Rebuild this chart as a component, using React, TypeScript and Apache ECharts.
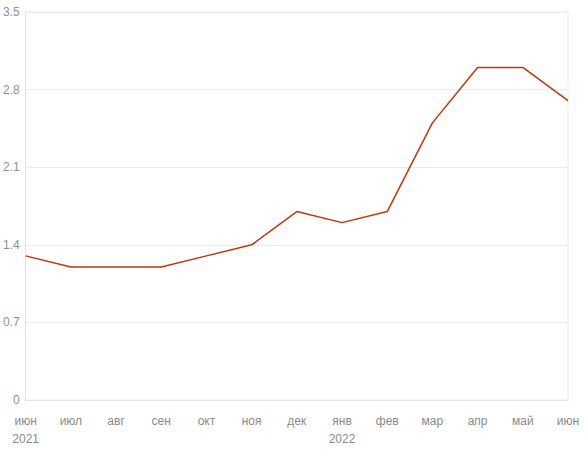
import React, { useEffect, useRef } from "react";
import * as echarts from "echarts";

const months = ["июн", "июл", "авг", "сен", "окт", "ноя", "дек", "янв", "фев", "мар", "апр", "май", "июн"];
const yearLabels = ["2021", "", "", "", "", "", "", "2022", "", "", "", "", ""];
const values = [1.3, 1.2, 1.2, 1.2, 1.3, 1.4, 1.7, 1.6, 1.7, 2.5, 3.0, 3.0, 2.7];
const yTicks = { min: 0, max: 3.5, interval: 0.7 };

export default function App() {
  const ref = useRef<HTMLDivElement>(null);
  useEffect(() => {
    const chart = echarts.init(ref.current!, null, { renderer: "svg" });
    const cats = months.map((m, i) => (yearLabels[i] ? m + "\n" + yearLabels[i] : m));
    chart.setOption({
      animation: false,
      textStyle: { fontFamily: "Liberation Sans, Arial, sans-serif" },
      grid: {
        left: 25,
        right: 17,
        top: 12,
        bottom: 53,
        show: true,
        borderColor: "#ebebeb",
        borderWidth: 1,
        containLabel: false,
      },
      xAxis: {
        type: "category",
        data: cats,
        boundaryGap: false,
        axisLine: { lineStyle: { color: "#e3e3e3" } },
        axisTick: { show: false },
        axisLabel: {
          color: "#8a8a8a",
          fontSize: 12,
          margin: 12,
          lineHeight: 18,
          interval: 0,
        },
        splitLine: { show: false },
      },
      yAxis: {
        type: "value",
        min: yTicks.min,
        max: yTicks.max,
        interval: yTicks.interval,
        axisLine: { show: true, lineStyle: { color: "#e3e3e3" } },
        axisTick: { show: false },
        axisLabel: { color: "#8292ab", fontSize: 12, margin: 6 },
        splitLine: { lineStyle: { color: "#ebebeb" } },
      },
      series: [
        {
          type: "line",
          data: values,
          symbol: "none",
          lineStyle: { color: "#c2350a", width: 1.5 },
        },
      ],
    });
    return () => chart.dispose();
  }, []);
  return <div ref={ref} style={{ width: 585, height: 453, position: "absolute", left: 0, top: 0 }} />;
}
